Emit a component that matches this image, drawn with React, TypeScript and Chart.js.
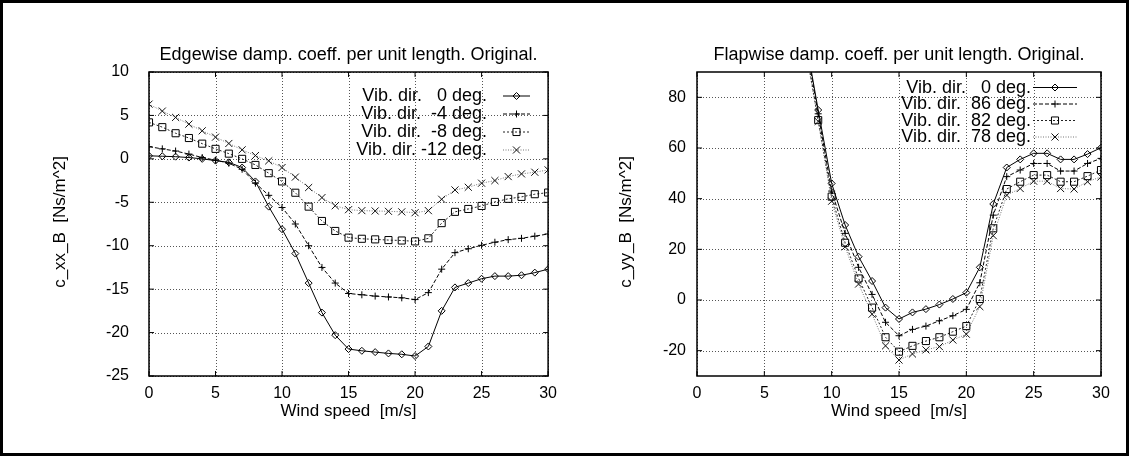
import React, { useEffect, useRef } from "react";
import { Chart, registerables } from "chart.js";

Chart.register(...registerables);

const FONT = "'Liberation Sans', Arial, Helvetica, sans-serif";

// ---------- Left panel: Edgewise ----------
const windEdge = [0, 1, 2, 3, 4, 5, 6, 7, 8, 9, 10, 11, 12, 13, 14, 15, 16, 17, 18, 19, 20, 21, 22, 23, 24, 25, 26, 27, 28, 29, 30];
const edge0 = [0.35, 0.3, 0.25, 0.15, 0.0, -0.2, -0.4, -1.0, -2.6, -5.5, -8.1, -10.9, -14.3, -17.7, -20.3, -21.9, -22.1, -22.25, -22.4, -22.5, -22.7, -21.6, -17.5, -14.8, -14.3, -13.8, -13.5, -13.5, -13.4, -13.1, -12.7];
const edgeM4 = [1.4, 1.15, 0.9, 0.55, 0.15, -0.15, -0.5, -1.2, -2.8, -4.2, -5.6, -7.5, -10.0, -12.5, -14.3, -15.5, -15.65, -15.8, -15.9, -16.0, -16.2, -15.4, -12.7, -10.8, -10.35, -9.95, -9.6, -9.3, -9.15, -8.9, -8.65];
const edgeM8 = [4.2, 3.65, 2.95, 2.4, 1.75, 1.15, 0.6, 0.0, -0.7, -1.65, -2.6, -3.9, -5.5, -7.15, -8.3, -9.07, -9.2, -9.27, -9.35, -9.4, -9.5, -9.15, -7.4, -6.1, -5.77, -5.42, -4.96, -4.6, -4.38, -4.07, -3.88];
const edgeM12 = [6.3, 5.5, 4.77, 4.0, 3.23, 2.5, 1.77, 1.04, 0.38, -0.23, -1.0, -2.1, -3.3, -4.46, -5.4, -5.85, -5.96, -6.0, -6.04, -6.1, -6.2, -5.96, -4.65, -3.58, -3.27, -2.8, -2.5, -2.04, -1.73, -1.54, -1.27];
const edgeLabels = ["Vib. dir.   0 deg.", "Vib. dir.  -4 deg.", "Vib. dir.  -8 deg.", "Vib. dir. -12 deg."];
const edgeXTicks = [0, 5, 10, 15, 20, 25, 30];
const edgeYTicks = [-25, -20, -15, -10, -5, 0, 5, 10];

// ---------- Right panel: Flapwise ----------
const windFlap = [8, 9, 10, 11, 12, 13, 14, 15, 16, 17, 18, 19, 20, 21, 22, 23, 24, 25, 26, 27, 28, 29, 30];
const flap0 = [105, 75, 46, 29.6, 17.1, 7.5, -3.0, -7.5, -4.9, -3.6, -1.8, 0.4, 2.9, 12.9, 37.9, 52.3, 55.5, 57.9, 57.9, 55.5, 55.5, 57.6, 60.1];
const flap86 = [104, 73.5, 43, 26.3, 12.9, 2.2, -8.8, -14.1, -11.6, -10.3, -8.2, -6.2, -3.7, 6.8, 33.5, 48.7, 51.3, 53.9, 53.9, 50.9, 50.9, 53.9, 55.9];
const flap82 = [102, 71, 40.8, 22.6, 8.5, -3.0, -14.7, -20.4, -18.1, -16.2, -14.7, -12.5, -10.3, 0.4, 28.3, 43.8, 46.7, 49.3, 49.3, 46.7, 46.7, 48.9, 51.3];
const flap78 = [101, 70.5, 39, 21, 6.3, -5.6, -18.1, -23.7, -21.3, -19.7, -18.4, -15.8, -13.5, -2.6, 25.4, 41.4, 44, 46.9, 46.9, 44, 43.8, 46.7, 48.6];
const flapLabels = ["Vib. dir.   0 deg.", "Vib. dir.  86 deg.", "Vib. dir.  82 deg.", "Vib. dir.  78 deg."];
const flapXTicks = [0, 5, 10, 15, 20, 25, 30];
const flapYTicks = [-20, 0, 20, 40, 60, 80];

// ---------- styles for the four series ----------
const SERIES_STYLE = [
  { color: "#000", mark: "#000", dash: [] as number[], point: "rectRot", r: 3.5 },
  { color: "#000", mark: "#000", dash: [4, 2], point: "cross", r: 3.5 },
  { color: "#222", mark: "#000", dash: [2, 2], point: "rect", r: 5 },
  { color: "#777", mark: "#111", dash: [1, 1.5], point: "crossRot", r: 5 },
];

function drawMarker(ctx: CanvasRenderingContext2D, type: string, x: number, y: number, r: number) {
  ctx.beginPath();
  if (type === "rectRot") {
    ctx.moveTo(x - r, y); ctx.lineTo(x, y - r); ctx.lineTo(x + r, y); ctx.lineTo(x, y + r); ctx.closePath();
  } else if (type === "cross") {
    ctx.moveTo(x - r, y); ctx.lineTo(x + r, y); ctx.moveTo(x, y - r); ctx.lineTo(x, y + r);
  } else if (type === "rect") {
    const s = Math.SQRT1_2 * r; ctx.rect(x - s, y - s, 2 * s, 2 * s);
  } else {
    const s = Math.SQRT1_2 * r;
    ctx.moveTo(x - s, y - s); ctx.lineTo(x + s, y + s); ctx.moveTo(x + s, y - s); ctx.lineTo(x - s, y + s);
  }
  ctx.stroke();
}

type PanelCfg = {
  title: string;
  yTitle: string;
  xs: number[];
  series: number[][];
  labels: string[];
  xTicks: number[];
  yTicks: number[];
  yMin: number;
  yMax: number;
  canvasW: number;
  areaLeft: number;
  areaRight: number;
  yTickPad: number;
  yTitleX: number;
  legendRows: number[];
  legendTextRight: number;
  legendSample: [number, number];
};

const AREA_TOP = 72;
const AREA_BOTTOM = 376;
const H = 456;

function Panel({ cfg, left }: { cfg: PanelCfg; left: number }) {
  const ref = useRef<HTMLCanvasElement>(null);
  useEffect(() => {
    const decor = {
      id: "decor",
      beforeDatasetsDraw(chart: any) {
        const { ctx, chartArea: ca } = chart;
        const xs = chart.scales.x;
        const ys = chart.scales.y;
        ctx.save();
        ctx.strokeStyle = "#555";
        ctx.lineWidth = 1;
        ctx.setLineDash([1, 2]);
        ctx.beginPath();
        cfg.xTicks.forEach((v) => {
          const px = Math.round(xs.getPixelForValue(v)) + 0.5;
          ctx.moveTo(px, ca.top); ctx.lineTo(px, ca.bottom);
        });
        cfg.yTicks.forEach((v) => {
          const py = Math.round(ys.getPixelForValue(v)) + 0.5;
          ctx.moveTo(ca.left, py); ctx.lineTo(ca.right, py);
        });
        ctx.stroke();
        ctx.restore();
      },
      afterDraw(chart: any) {
        const { ctx, chartArea: ca } = chart;
        const xs = chart.scales.x;
        const ys = chart.scales.y;
        ctx.save();
        // frame
        ctx.strokeStyle = "#000";
        ctx.lineWidth = 1.5;
        ctx.setLineDash([]);
        ctx.strokeRect(ca.left, ca.top, ca.right - ca.left, ca.bottom - ca.top);
        // inward tick marks (mirrored)
        ctx.lineWidth = 1;
        ctx.beginPath();
        cfg.xTicks.forEach((v) => {
          const px = xs.getPixelForValue(v);
          ctx.moveTo(px, ca.bottom); ctx.lineTo(px, ca.bottom - 5);
          ctx.moveTo(px, ca.top); ctx.lineTo(px, ca.top + 5);
        });
        cfg.yTicks.forEach((v) => {
          const py = ys.getPixelForValue(v);
          ctx.moveTo(ca.left, py); ctx.lineTo(ca.left + 5, py);
          ctx.moveTo(ca.right, py); ctx.lineTo(ca.right - 5, py);
        });
        ctx.stroke();
        // titles
        ctx.fillStyle = "#000";
        ctx.textAlign = "center";
        ctx.textBaseline = "alphabetic";
        const cx = (ca.left + ca.right) / 2;
        ctx.font = `18px ${FONT}`;
        ctx.fillText(cfg.title, cx, 60);
        ctx.font = `17px ${FONT}`;
        ctx.fillText("Wind speed  [m/s]", cx, 416);
        ctx.save();
        ctx.translate(cfg.yTitleX, 222);
        ctx.rotate(-Math.PI / 2);
        ctx.textBaseline = "middle";
        ctx.fillText(cfg.yTitle, 0, 0);
        ctx.restore();
        // legend (gnuplot-style, right-justified text + sample)
        ctx.font = `18px ${FONT}`;
        ctx.textBaseline = "middle";
        ctx.textAlign = "right";
        cfg.labels.forEach((lab, i) => {
          const y = cfg.legendRows[i];
          ctx.fillStyle = "#000";
          ctx.fillText(lab, cfg.legendTextRight, y + 0.5);
          const st = SERIES_STYLE[i];
          ctx.strokeStyle = st.color;
          ctx.lineWidth = 1;
          ctx.setLineDash(st.dash);
          ctx.beginPath();
          ctx.moveTo(cfg.legendSample[0], y);
          ctx.lineTo(cfg.legendSample[1], y);
          ctx.stroke();
          ctx.setLineDash([]);
          ctx.strokeStyle = st.mark;
          drawMarker(ctx, st.point, (cfg.legendSample[0] + cfg.legendSample[1]) / 2, y, st.r);
        });
        ctx.restore();
      },
    };

    const chart = new Chart(ref.current as HTMLCanvasElement, {
      type: "line",
      data: {
        datasets: cfg.series.map((vals, i) => ({
          label: cfg.labels[i],
          data: cfg.xs.map((x, j) => ({ x, y: vals[j] })),
          borderColor: SERIES_STYLE[i].color,
          borderWidth: 1,
          borderDash: SERIES_STYLE[i].dash,
          pointStyle: SERIES_STYLE[i].point as any,
          pointRadius: SERIES_STYLE[i].r,
          pointBorderWidth: 1,
          pointBorderColor: SERIES_STYLE[i].mark,
          pointBackgroundColor: "rgba(0,0,0,0)",
          tension: 0,
          fill: false,
        })),
      },
      options: {
        animation: false,
        responsive: false,
        layout: { padding: { top: AREA_TOP, right: cfg.canvasW - cfg.areaRight, left: 0, bottom: 0 } },
        plugins: { legend: { display: false }, tooltip: { enabled: false }, title: { display: false } },
        scales: {
          x: {
            type: "linear",
            min: 0,
            max: 30,
            afterBuildTicks: (s: any) => { s.ticks = cfg.xTicks.map((v) => ({ value: v })); },
            afterFit: (s: any) => { s.height = H - AREA_BOTTOM; },
            ticks: { font: { size: 16, family: FONT }, color: "#000", padding: 8, maxRotation: 0, autoSkip: false },
            grid: { display: false, drawTicks: false },
            border: { display: false },
          },
          y: {
            type: "linear",
            min: cfg.yMin,
            max: cfg.yMax,
            afterBuildTicks: (s: any) => { s.ticks = cfg.yTicks.map((v) => ({ value: v })); },
            afterFit: (s: any) => { s.width = cfg.areaLeft; },
            ticks: { font: { size: 16, family: FONT }, color: "#000", padding: cfg.yTickPad, autoSkip: false },
            grid: { display: false, drawTicks: false },
            border: { display: false },
          },
        },
      } as any,
      plugins: [decor],
    });
    return () => chart.destroy();
  }, []);
  return (
    <div style={{ position: "absolute", left, top: 0, width: cfg.canvasW, height: H }}>
      <canvas ref={ref} width={cfg.canvasW} height={H} style={{ width: cfg.canvasW, height: H, display: "block" }} />
    </div>
  );
}

const leftCfg: PanelCfg = {
  title: "Edgewise damp. coeff. per unit length. Original.",
  yTitle: "c_xx_B  [Ns/m^2]",
  xs: windEdge,
  series: [edge0, edgeM4, edgeM8, edgeM12],
  labels: edgeLabels,
  xTicks: edgeXTicks,
  yTicks: edgeYTicks,
  yMin: -25,
  yMax: 10,
  canvasW: 565,
  areaLeft: 149,
  areaRight: 551,
  yTickPad: 20,
  yTitleX: 60,
  legendRows: [96, 114, 132, 150],
  legendTextRight: 487,
  legendSample: [503, 530],
};

const rightCfg: PanelCfg = {
  title: "Flapwise damp. coeff. per unit length. Original.",
  yTitle: "c_yy_B  [Ns/m^2]",
  xs: windFlap,
  series: [flap0, flap86, flap82, flap78],
  labels: flapLabels,
  xTicks: flapXTicks,
  yTicks: flapYTicks,
  yMin: -30,
  yMax: 90,
  canvasW: 564,
  areaLeft: 132,
  areaRight: 536,
  yTickPad: 11,
  yTitleX: 61,
  legendRows: [87.5, 104, 120.5, 137],
  legendTextRight: 466,
  legendSample: [468, 512],
};

export default function App() {
  useEffect(() => {
    document.body.style.margin = "0";
  }, []);
  return (
    <div style={{ position: "absolute", left: 0, top: 0, width: 1129, height: 456, background: "#fff", overflow: "hidden" }}>
      <Panel cfg={leftCfg} left={0} />
      <Panel cfg={rightCfg} left={565} />
      <div style={{ position: "absolute", left: 0, top: 0, width: 1129, height: 456, boxSizing: "border-box", border: "3px solid #000", pointerEvents: "none" }} />
    </div>
  );
}
